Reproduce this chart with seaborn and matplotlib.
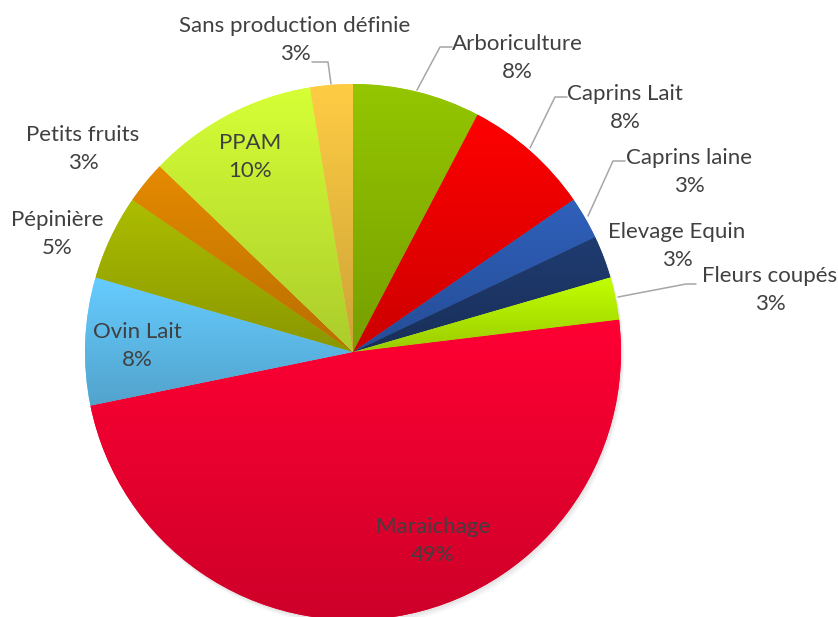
import numpy as np
import matplotlib
matplotlib.use("Agg")
import matplotlib.pyplot as plt
import matplotlib.colors as mcolors
from matplotlib.patches import Circle
import seaborn as sns

# data: number of farms per production (percentages are rounded shares of 39)
categories = ["Arboriculture", "Caprins Lait", "Caprins laine", "Elevage Equin",
              "Fleurs coupés", "Maraichage", "Ovin Lait", "Pépinière",
              "Petits fruits", "PPAM", "Sans production définie"]
counts = [3, 3, 1, 1, 1, 19, 3, 2, 1, 4, 1]
top_colors = ["#94c600", "#ff0000", "#2f60bb", "#1f3b70", "#c2ff00", "#ff0033",
              "#66ccff", "#acbd00", "#e68a00", "#d6ff36", "#ffcc44"]

sns.set_theme(style="white")
plt.rcParams["font.family"] = ["Lato", "DejaVu Sans"]

W, H = 838, 617
CX, CY, R = 353, 352, 268  # pie centre and radius in pixels


def px(x, y):
    # pixel position -> pie data coordinates (radius 1)
    return (x - CX) / R, (CY - y) / R


fig = plt.figure(figsize=(W / 100, H / 100), dpi=100)
ax = fig.add_axes([0, 0, 1, 1])
ax.set_xlim(-CX / R, (W - CX) / R)
ax.set_ylim((CY - H) / R, CY / R)
ax.set_aspect("equal")
ax.axis("off")

# soft shadow
for i in range(3):
    ax.add_patch(Circle((0.004 * (i + 1), -0.007 * (i + 1)), 1.0, color="black",
                        alpha=0.035, lw=0, zorder=0))

wedges, _ = ax.pie(counts, startangle=90, counterclock=False, radius=1,
                   colors=top_colors, wedgeprops=dict(linewidth=0))

# vertical gradient inside every wedge (light on top, darker at bottom)
for w, c in zip(wedges, top_colors):
    verts = w.get_path().vertices
    x0, x1 = verts[:, 0].min(), verts[:, 0].max()
    y0, y1 = verts[:, 1].min(), verts[:, 1].max()
    top = np.array(mcolors.to_rgb(c))
    bot = top * 0.8
    t = np.linspace(0, 1, 128)[:, None]
    img = (top * (1 - t) + bot * t)[:, None, :]
    im = ax.imshow(img, extent=(x0, x1, y0, y1), origin="upper",
                   aspect="auto", zorder=2, interpolation="bilinear")
    im.set_clip_path(w)
ax.set_xlim(-CX / R, (W - CX) / R)
ax.set_ylim((CY - H) / R, CY / R)

total = sum(counts)
pct = [f"{round(100 * c / total)}%" for c in counts]

# label centre positions (pixels) and leader lines (pixels)
label_pos = {
    "Arboriculture": (517, 58), "Caprins Lait": (625, 108),
    "Caprins laine": (689, 172), "Elevage Equin": (677, 246),
    "Fleurs coupés": (770, 290), "Maraichage": (433, 541),
    "Ovin Lait": (137, 346), "Pépinière": (57, 234),
    "Petits fruits": (83, 149), "PPAM": (250, 157),
    "Sans production définie": (295, 40),
}
leaders = {
    "Arboriculture": [(452, 47), (440, 47), (417, 90)],
    "Caprins Lait": [(567, 97), (555, 97), (530, 148)],
    "Caprins laine": [(625, 161), (613, 161), (588, 216)],
    "Fleurs coupés": [(696, 284), (686, 284), (618, 297)],
    "Sans production définie": [(312, 62), (328, 62), (331, 84)],
}

for name, p in zip(categories, pct):
    x, y = px(*label_pos[name])
    ax.text(x, y, f"{name}\n{p}", ha="center", va="center", multialignment="center",
            fontsize=16, color="#404040", linespacing=1.5, zorder=5)
    if name in leaders:
        pts = np.array([px(*q) for q in leaders[name]])
        ax.plot(pts[:, 0], pts[:, 1], color="#a6a6a6", lw=1.1, zorder=4)

fig.savefig("out.png", dpi=100)
